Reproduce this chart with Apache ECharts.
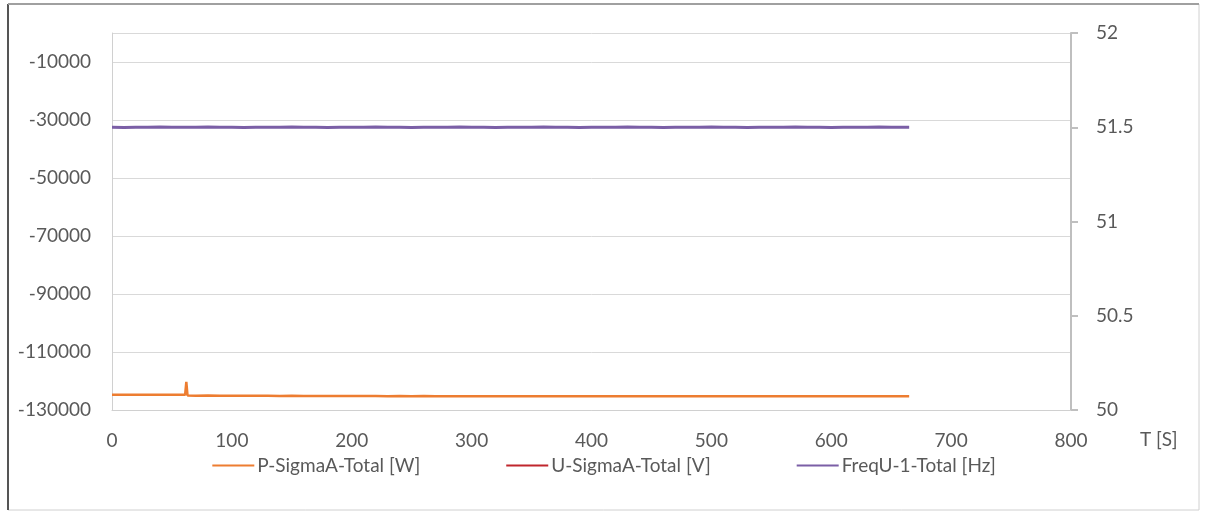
<!DOCTYPE html>
<html><head><meta charset="utf-8">
<script src="https://cdn.jsdelivr.net/npm/echarts@6/dist/echarts.min.js"></script>
<style>html,body{margin:0;padding:0;background:#fff}#c{width:1208px;height:520px}</style>
</head><body><div id="c"></div>
<script>
const timeS = [0,10,20,30,40,50,61,62,63,70,80,90,100,110,120,130,140,150,160,170,180,190,200,210,220,230,240,250,260,270,280,290,300,310,320,330,340,350,360,370,380,390,400,410,420,430,440,450,460,470,480,490,500,510,520,530,540,550,560,570,580,590,600,610,620,630,640,650,660,665];
const powerW = [-124700,-124700,-124750,-124700,-124750,-124700,-124750,-120300,-125000,-125050,-125000,-125050,-125100,-125050,-125100,-125100,-125150,-125100,-125150,-125150,-125200,-125150,-125200,-125200,-125200,-125250,-125200,-125250,-125200,-125250,-125250,-125250,-125300,-125250,-125250,-125300,-125250,-125300,-125300,-125250,-125300,-125300,-125300,-125250,-125300,-125300,-125300,-125300,-125250,-125300,-125300,-125300,-125300,-125300,-125300,-125300,-125300,-125250,-125300,-125300,-125300,-125300,-125300,-125300,-125300,-125300,-125300,-125300,-125300,-125300];
const voltageV = []; // not visible within the plotted range of the reference
const freqHz = [51.5,51.499,51.5,51.5,51.501,51.5,51.5,51.499,51.5,51.5,51.501,51.5,51.5,51.499,51.5,51.5,51.5,51.501,51.5,51.5,51.499,51.5,51.5,51.5,51.501,51.5,51.5,51.499,51.5,51.5,51.5,51.501,51.5,51.5,51.499,51.5,51.5,51.5,51.501,51.5,51.5,51.499,51.5,51.5,51.5,51.501,51.5,51.5,51.499,51.5,51.5,51.5,51.501,51.5,51.5,51.499,51.5,51.5,51.5,51.501,51.5,51.5,51.499,51.5,51.5,51.5,51.501,51.5,51.5,51.5];
const leftTicks = {min:-130000, max:0, interval:20000};
const rightTicks = {min:50, max:52, interval:0.5};
const xTicks = {min:0, max:800, interval:100};
const seriesNames = ['P-SigmaA-Total [W]','U-SigmaA-Total [V]','FreqU-1-Total [Hz]'];
const xAxisTitle = 'T [S]';

const font = 'Lato, Open Sans, sans-serif';
const grey = '#595959';
const fs = 19;
const pairs = (a)=>a.map((v,i)=>[timeS[i],v]);
const chart = echarts.init(document.getElementById('c'));
chart.setOption({
  animation:false,
  backgroundColor:'#fff',
  grid:{left:112,right:137,top:33,bottom:110},
  graphic:[
    {type:'rect',shape:{x:8,y:4,width:1191,height:506},style:{fill:'none',stroke:'#d0d0d0',lineWidth:1},silent:true},
    {type:'line',shape:{x1:8,y1:4,x2:8,y2:510},style:{stroke:'#555',lineWidth:2},silent:true},
    {type:'line',shape:{x1:8,y1:4,x2:1199,y2:4},style:{stroke:'#a0a0a0',lineWidth:2},silent:true},
    {type:'text',left:1140,top:430,style:{text:xAxisTitle,font:fs+'px '+font,fill:grey}}
  ],
  xAxis:{type:'value',min:xTicks.min,max:xTicks.max,interval:xTicks.interval,
    axisLine:{show:true,onZero:false,lineStyle:{color:'#d0d0d0',width:1}},axisTick:{show:false},
    splitLine:{show:false},
    axisLabel:{color:grey,fontSize:fs,fontFamily:font,margin:21}},
  yAxis:[
    {type:'value',min:leftTicks.min,max:leftTicks.max,interval:leftTicks.interval,position:'left',
      axisLine:{show:true,lineStyle:{color:'#d0d0d0'}},axisTick:{show:false},
      splitLine:{show:true,lineStyle:{color:'#d9d9d9',width:1}},
      axisLabel:{color:grey,fontSize:fs,fontFamily:font,margin:21,
        formatter:(v)=> v===0?'':String(v)}},
    {type:'value',min:rightTicks.min,max:rightTicks.max,interval:rightTicks.interval,position:'right',
      axisLine:{show:true,lineStyle:{color:'#bfbfbf',width:2}},
      axisTick:{show:true,length:7,lineStyle:{color:'#bfbfbf',width:2}},
      splitLine:{show:false},
      axisLabel:{color:grey,fontSize:fs,fontFamily:font,margin:25,
        formatter:(v)=>String(+v.toFixed(1))}}
  ],
  legend:{bottom:40,left:'center',itemGap:86,itemWidth:42,itemHeight:2,icon:'rect',
    textStyle:{color:grey,fontSize:fs,fontFamily:font,padding:[0,0,0,-2]},
    data:seriesNames},
  series:[
    {name:seriesNames[0],type:'line',yAxisIndex:0,data:pairs(powerW),showSymbol:false,
      lineStyle:{color:'#ED7D31',width:2.5},itemStyle:{color:'#ED7D31'},clip:true},
    {name:seriesNames[1],type:'line',yAxisIndex:0,data:pairs(voltageV),showSymbol:false,
      lineStyle:{color:'#C0262D',width:2.5},itemStyle:{color:'#C0262D'},clip:true},
    {name:seriesNames[2],type:'line',yAxisIndex:1,data:pairs(freqHz),showSymbol:false,
      lineStyle:{color:'#7B5FA6',width:3},itemStyle:{color:'#7B5FA6'},clip:true}
  ]
});
</script></body></html>
